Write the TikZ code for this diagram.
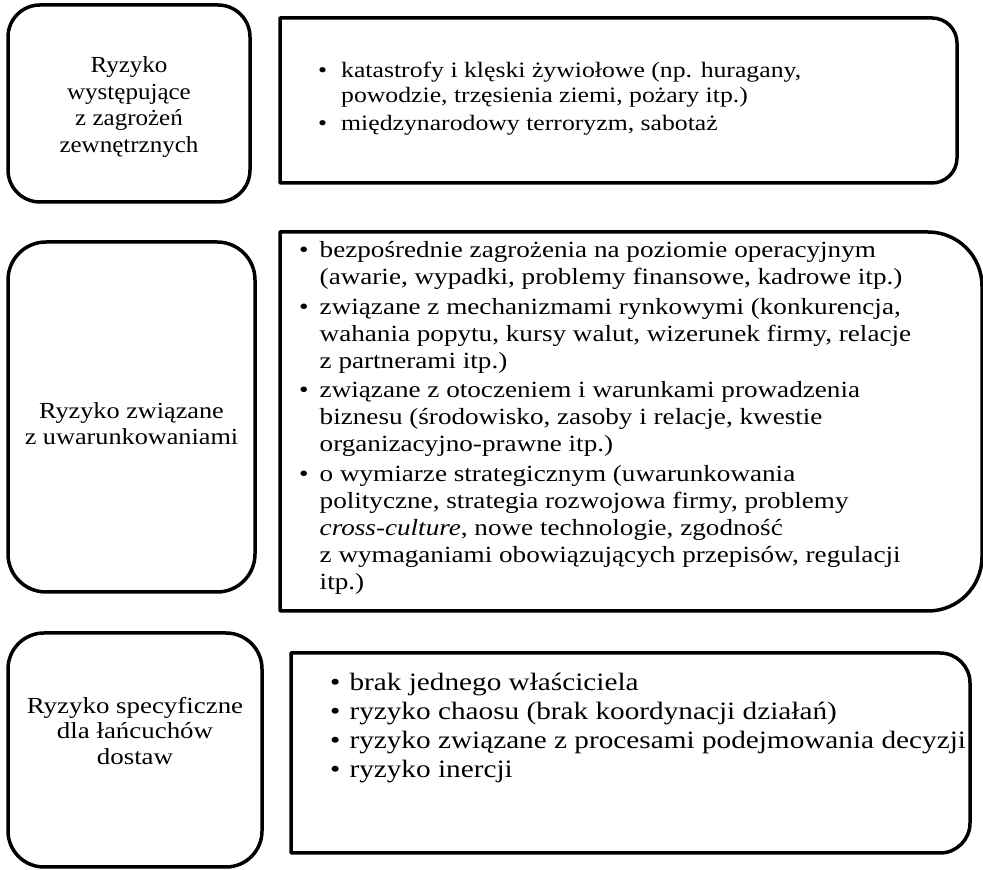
\documentclass[tikz,border=0pt]{standalone}
\usepackage{fontspec}
\setmainfont{Liberation Serif}
\newcommand\bitem[1]{\makebox[#1][l]{•}}
\newcommand\bcont[1]{\hspace*{#1}}
\begin{document}
\begin{tikzpicture}[x=1pt,y=1pt,
  lbox/.style={draw, line width=3.5pt, rounded corners=32pt, inner sep=0pt},
  rline/.style={draw, line width=3.5pt, line join=round},
  ltxt/.style={align=center, inner sep=0pt, xscale=1.17},
  rtxt/.style={align=left, inner sep=0pt, anchor=north west, xscale=1.17}]
\useasboundingbox (0,0) rectangle (983,870);
% left boxes
\node[lbox, minimum width=242pt, minimum height=197pt] (l1) at (129,766.5) {};
\node[lbox, minimum width=247pt, minimum height=350pt, rounded corners=38pt] (l2) at (131.5,453) {};
\node[lbox, minimum width=254pt, minimum height=234pt, rounded corners=36pt] (l3) at (135,120) {};
\node[ltxt, xscale=0.93, font=\fontsize{23}{26.5}\selectfont] (t1) at ([yshift=-3.5pt]l1.center) {Ryzyko\\występujące\\z zagrożeń\\zewnętrznych};
\node[ltxt, xscale=0.975, font=\fontsize{23}{26}\selectfont] (t2) at ([yshift=-7pt]l2.center) {Ryzyko związane\\z uwarunkowaniami};
\node[ltxt, font=\fontsize{23}{25.5}\selectfont] (t3) at ([yshift=19pt]l3.center) {Ryzyko specyficzne\\dla łańcuchów\\dostaw};
% right boxes
\draw[rline] (280,852) -- (932,852) arc[start angle=90,end angle=0,radius=25] -- (957,712) arc[start angle=0,end angle=-90,radius=25] -- (280,687) -- cycle;
\draw[rline] (280,638) -- (928,638) arc[start angle=90,end angle=0,radius=54] -- (982,313) arc[start angle=0,end angle=-90,radius=54] -- (280,259) -- cycle;
\draw[rline] (291,217) -- (940,217) arc[start angle=90,end angle=0,radius=30] -- (970,47) arc[start angle=0,end angle=-90,radius=30] -- (291,17) -- cycle;
% right texts
\node[rtxt, font=\fontsize{22}{25}\selectfont] (r1) at (318,808) {\bitem{19.6pt}katastrofy i klęski żywiołowe (np. huragany,\\\bcont{19.6pt}powodzie, trzęsienia ziemi, pożary itp.)\\[3pt]\bitem{19.6pt}międzynarodowy terroryzm, sabotaż};
\node[rtxt, font=\fontsize{23.2}{27}\selectfont] (r2) at (299,628.5) {\bitem{17.5pt}bezpośrednie zagrożenia na poziomie operacyjnym\\
\bcont{17.5pt}(awarie, wypadki, problemy finansowe, kadrowe itp.)\\[2.5pt]
\bitem{17.5pt}związane z mechanizmami rynkowymi (konkurencja,\\
\bcont{17.5pt}wahania popytu, kursy walut, wizerunek firmy, relacje\\
\bcont{17.5pt}z partnerami itp.)\\[2.5pt]
\bitem{17.5pt}związane z otoczeniem i warunkami prowadzenia\\
\bcont{17.5pt}biznesu (środowisko, zasoby i relacje, kwestie\\
\bcont{17.5pt}organizacyjno-prawne itp.)\\[2.5pt]
\bitem{17.5pt}o wymiarze strategicznym (uwarunkowania\\
\bcont{17.5pt}polityczne, strategia rozwojowa firmy, problemy\\
\bcont{17.5pt}\textit{cross-culture}, nowe technologie, zgodność\\
\bcont{17.5pt}z wymaganiami obowiązujących przepisów, regulacji\\
\bcont{17.5pt}itp.)};
\node[rtxt, font=\fontsize{25}{29}\selectfont] (r3) at (330,197) {\bitem{16.5pt}brak jednego właściciela\\
\bitem{16.5pt}ryzyko chaosu (brak koordynacji działań)\\
\bitem{16.5pt}ryzyko związane z procesami podejmowania decyzji\\
\bitem{16.5pt}ryzyko inercji};
\end{tikzpicture}
\end{document}
